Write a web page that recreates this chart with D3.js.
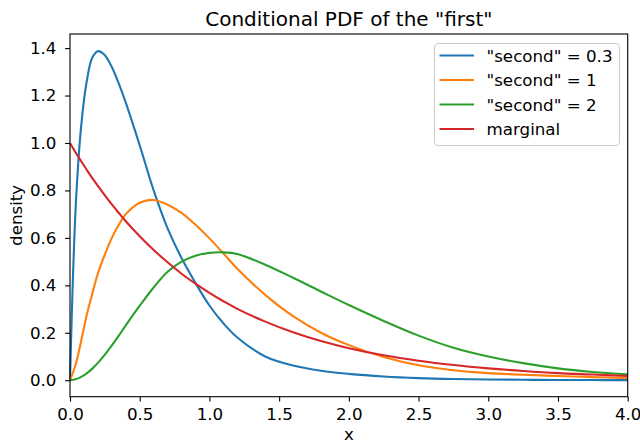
<!DOCTYPE html>
<html>
<head>
<meta charset="utf-8">
<script src="https://cdn.jsdelivr.net/npm/d3@7"></script>
<style>
  body { margin: 0; background: #fff; }
  text { font-family: "DejaVu Sans", sans-serif; fill: #000; }
</style>
</head>
<body>
<div id="chart"></div>
<script>
// x grid shared by every curve
const xs = [0, 0.04, 0.08, 0.12, 0.16, 0.2, 0.25, 0.3, 0.35, 0.4, 0.5, 0.6, 0.7, 0.8, 0.9,
  1.0, 1.1, 1.2, 1.4, 1.6, 1.8, 2.0, 2.25, 2.5, 2.75, 3.0, 3.25, 3.5, 3.75, 4.0];

// densities
const second03 = [0, 0.72, 1.07, 1.26, 1.36, 1.387, 1.37, 1.32, 1.25, 1.17, 0.99, 0.80, 0.64, 0.515, 0.41,
  0.315, 0.24, 0.18, 0.10, 0.062, 0.04, 0.027, 0.016, 0.009, 0.005, 0.003, 0.002, 0.001, 0.0007, 0.0005];
const second1 = [0, 0.065, 0.165, 0.275, 0.365, 0.45, 0.53, 0.60, 0.655, 0.70, 0.748, 0.76, 0.74, 0.705, 0.655,
  0.598, 0.535, 0.47, 0.36, 0.27, 0.2, 0.148, 0.098, 0.063, 0.042, 0.03, 0.023, 0.018, 0.013, 0.009];
const second2 = [0, 0.004, 0.014, 0.029, 0.049, 0.073, 0.108, 0.147, 0.188, 0.231, 0.314, 0.391, 0.457, 0.5, 0.525,
  0.537, 0.539, 0.532, 0.487, 0.432, 0.374, 0.317, 0.25, 0.188, 0.137, 0.1, 0.072, 0.05, 0.035, 0.025];
const marginal = [1.0, 0.96, 0.923, 0.887, 0.852, 0.819, 0.779, 0.741, 0.705, 0.67, 0.607, 0.549, 0.497, 0.449, 0.407,
  0.368, 0.333, 0.301, 0.247, 0.202, 0.165, 0.135, 0.105, 0.082, 0.064, 0.05, 0.039, 0.03, 0.024, 0.018];

const seriesNames = ['"second" = 0.3', '"second" = 1', '"second" = 2', "marginal"];
const seriesValues = [second03, second1, second2, marginal];
const colors = ["#1f77b4", "#ff7f0e", "#2ca02c", "#d62728"];

const xTicks = [0, 0.5, 1.0, 1.5, 2.0, 2.5, 3.0, 3.5, 4.0];
const yTicks = [0, 0.2, 0.4, 0.6, 0.8, 1.0, 1.2, 1.4];

const width = 640, height = 444;
const margin = { left: 70, right: 12.3, top: 34, bottom: 47.3 };
const fontSize = 16.7;

const svg = d3.select("#chart").append("svg")
  .attr("width", width)
  .attr("height", height);

const x = d3.scaleLinear().domain([0, 4]).range([margin.left, width - margin.right]);
const y = d3.scaleLinear().domain([-0.0694, 1.4594]).range([height - margin.bottom, margin.top]);

// curves
const line = d3.line()
  .x((d) => x(d[0]))
  .y((d) => y(d[1]))
  .curve(d3.curveCatmullRom.alpha(0.5));

seriesValues.forEach((vals, i) => {
  svg.append("path")
    .datum(xs.map((v, j) => [v, vals[j]]))
    .attr("d", line)
    .attr("fill", "none")
    .attr("stroke", colors[i])
    .attr("stroke-width", 2.1)
    .attr("stroke-linejoin", "round");
});

// axes
const xAxis = svg.append("g")
  .attr("transform", `translate(0,${height - margin.bottom})`)
  .call(d3.axisBottom(x).tickValues(xTicks).tickFormat(d3.format(".1f")).tickSize(4.9).tickPadding(7));

const yAxis = svg.append("g")
  .attr("transform", `translate(${margin.left},0)`)
  .call(d3.axisLeft(y).tickValues(yTicks).tickFormat(d3.format(".1f")).tickSize(4.9).tickPadding(8.6));

[xAxis, yAxis].forEach((g) => {
  g.select(".domain").remove();
  g.selectAll("line").attr("stroke", "#000").attr("stroke-width", 1.1);
  g.selectAll("text").attr("font-size", fontSize).attr("font-family", "DejaVu Sans").attr("fill", "#000");
});

// frame
svg.append("rect")
  .attr("x", margin.left)
  .attr("y", margin.top)
  .attr("width", width - margin.left - margin.right)
  .attr("height", height - margin.top - margin.bottom)
  .attr("fill", "none")
  .attr("stroke", "#000")
  .attr("stroke-width", 1.1);

// labels
svg.append("text")
  .attr("x", (margin.left + width - margin.right) / 2)
  .attr("y", 26)
  .attr("text-anchor", "middle")
  .attr("font-size", 20)
  .text('Conditional PDF of the "first"');

svg.append("text")
  .attr("x", (margin.left + width - margin.right) / 2)
  .attr("y", 440)
  .attr("text-anchor", "middle")
  .attr("font-size", fontSize)
  .text("x");

svg.append("text")
  .attr("transform", `translate(22,${(margin.top + height - margin.bottom) / 2}) rotate(-90)`)
  .attr("text-anchor", "middle")
  .attr("font-size", fontSize)
  .text("density");

// legend
const legend = svg.append("g").attr("transform", "translate(434.5,43.5)");
legend.append("rect")
  .attr("width", 185)
  .attr("height", 102)
  .attr("rx", 3.5)
  .attr("fill", "#fff")
  .attr("fill-opacity", 0.8)
  .attr("stroke", "#cccccc")
  .attr("stroke-width", 1);

seriesNames.forEach((name, i) => {
  const row = legend.append("g").attr("transform", `translate(0,${12 + i * 24.5})`);
  row.append("line")
    .attr("x1", 5).attr("x2", 39.5)
    .attr("stroke", colors[i])
    .attr("stroke-width", 2.1);
  row.append("text")
    .attr("x", 52)
    .attr("y", 6)
    .attr("font-size", fontSize)
    .text(name);
});
</script>
</body>
</html>
